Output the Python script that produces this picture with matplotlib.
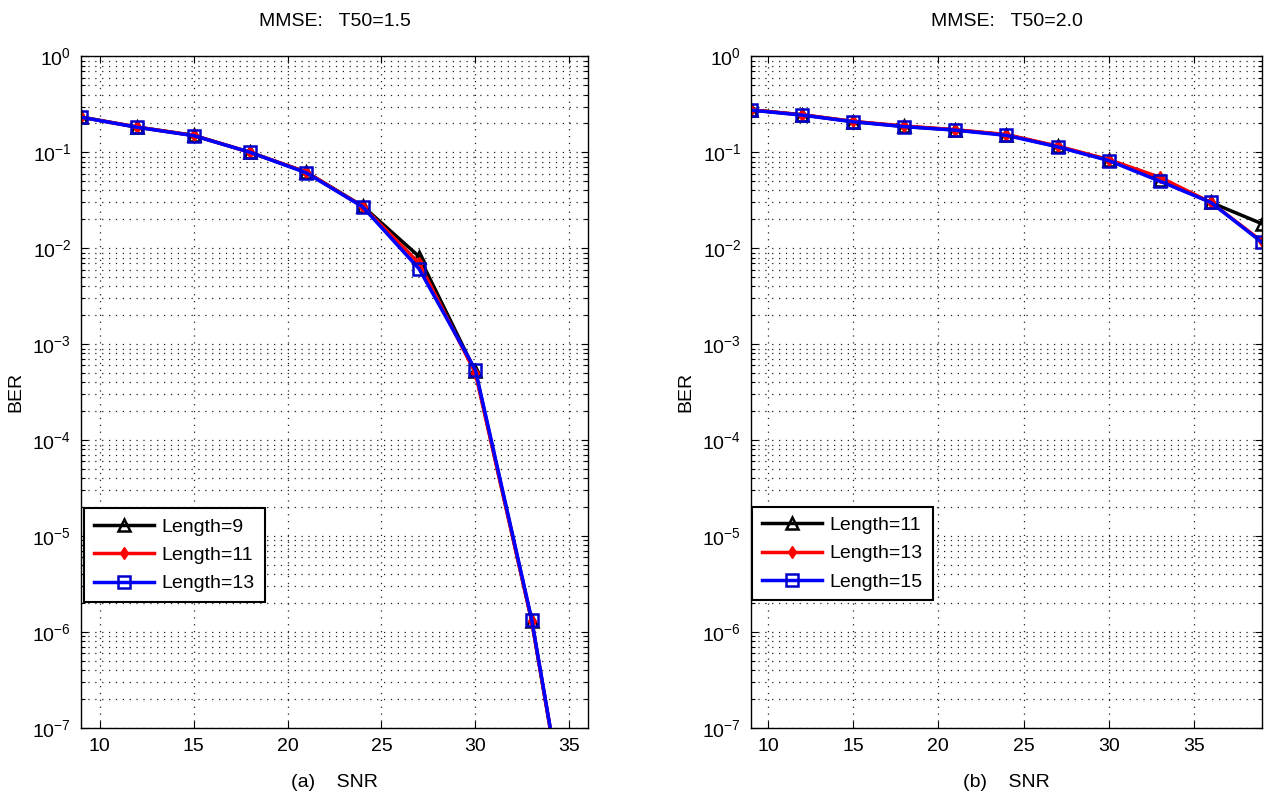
import matplotlib
matplotlib.use("Agg")
import matplotlib.pyplot as plt
from matplotlib.ticker import FixedLocator, NullFormatter, LogFormatterSciNotation

FONT = ['Liberation Sans', 'DejaVu Sans']
plt.rcParams['font.family'] = FONT
plt.rcParams['mathtext.fontset'] = 'custom'
plt.rcParams['mathtext.rm'] = 'Liberation Sans'
plt.rcParams['mathtext.default'] = 'regular'

# ---- data: panel (a) ----
snr_a = [9, 12, 15, 18, 21, 24, 27, 30, 33, 36]
ber_a_len9 = [0.233, 0.183, 0.150, 0.100, 0.062, 0.0275, 0.0082, 5.2e-4, 1.3e-6, 5e-10]
ber_a_len11 = [0.233, 0.183, 0.150, 0.100, 0.062, 0.0272, 0.0070, 5.0e-4, 1.3e-6, 5e-10]
ber_a_len13 = [0.232, 0.182, 0.149, 0.100, 0.061, 0.0270, 0.0061, 5.4e-4, 1.35e-6, 5e-10]
labels_a = ["Length=9", "Length=11", "Length=13"]

# ---- data: panel (b) ----
snr_b = [9, 12, 15, 18, 21, 24, 27, 30, 33, 36, 39]
ber_b_len11 = [0.277, 0.246, 0.209, 0.186, 0.171, 0.152, 0.115, 0.083, 0.052, 0.030, 0.018]
ber_b_len13 = [0.277, 0.246, 0.210, 0.188, 0.172, 0.153, 0.116, 0.084, 0.055, 0.030, 0.0118]
ber_b_len15 = [0.275, 0.244, 0.208, 0.185, 0.170, 0.150, 0.114, 0.082, 0.050, 0.030, 0.0115]
labels_b = ["Length=11", "Length=13", "Length=15"]

xticks = [10, 15, 20, 25, 30, 35]
decades = list(range(-7, 1))

fig = plt.figure(figsize=(12.82, 8.05), dpi=100)
ax1 = fig.add_axes([0.0632, 0.0957, 0.3955, 0.8343])
ax2 = fig.add_axes([0.5858, 0.0957, 0.3986, 0.8343])

FS = 14
DOT = (0, (1, 4.5))

def style(ax, xlim, title, xlabel):
    ax.set_yscale('log')
    ax.set_xlim(*xlim)
    ax.set_ylim(1e-7, 1)
    ax.xaxis.set_major_locator(FixedLocator(xticks))
    ax.yaxis.set_major_locator(FixedLocator([10.0 ** k for k in decades]))
    ax.yaxis.set_major_formatter(LogFormatterSciNotation())
    minors = [m * 10.0 ** k for k in decades[:-1] for m in range(2, 10)]
    ax.yaxis.set_minor_locator(FixedLocator(minors))
    ax.yaxis.set_minor_formatter(NullFormatter())
    ax.grid(True, which='major', axis='both', linestyle=DOT, color='#222222', linewidth=0.9)
    ax.grid(True, which='minor', axis='y', linestyle=DOT, color='#222222', linewidth=0.9)
    ax.tick_params(which='both', direction='in', top=True, right=True, labelsize=FS, pad=7)
    ax.tick_params(which='major', length=5, width=0.8)
    ax.tick_params(which='minor', length=3, width=0.8)
    for s in ax.spines.values():
        s.set_linewidth(1.0)
    ax.set_title(title, fontsize=FS, pad=22)
    ax.set_xlabel(xlabel, fontsize=FS, labelpad=14)
    ax.set_ylabel("BER", fontsize=FS, labelpad=6)

def draw(ax, x, s1, s2, s3, labels):
    ax.plot(x, s1, color='black', lw=2.5, marker='^', ms=9, mfc='none', mec='black', mew=1.8, label=labels[0])
    ax.plot(x, s2, color='red', lw=2.5, marker='d', ms=6, mfc='red', mec='red', mew=1.0, label=labels[1])
    ax.plot(x, s3, color='#0000ff', lw=2.5, marker='s', ms=9, mfc='none', mec='#0000cc', mew=1.8, label=labels[2])

draw(ax1, snr_a, ber_a_len9, ber_a_len11, ber_a_len13, labels_a)
draw(ax2, snr_b, ber_b_len11, ber_b_len13, ber_b_len15, labels_b)

style(ax1, (9, 36), "MMSE:   T50=1.5", "(a)    SNR")
style(ax2, (9, 39), "MMSE:   T50=2.0", "(b)    SNR")

for ax, anchor in ((ax1, (0.006, 0.1875)), (ax2, (0.002, 0.19))):
    leg = ax.legend(loc='lower left', bbox_to_anchor=anchor, borderaxespad=0,
                    fontsize=FS, handlelength=3.1, fancybox=False, framealpha=1,
                    edgecolor='black', labelspacing=0.55, borderpad=0.5, handletextpad=0.4)
    leg.get_frame().set_linewidth(1.5)

fig.savefig("out.png", dpi=100)
